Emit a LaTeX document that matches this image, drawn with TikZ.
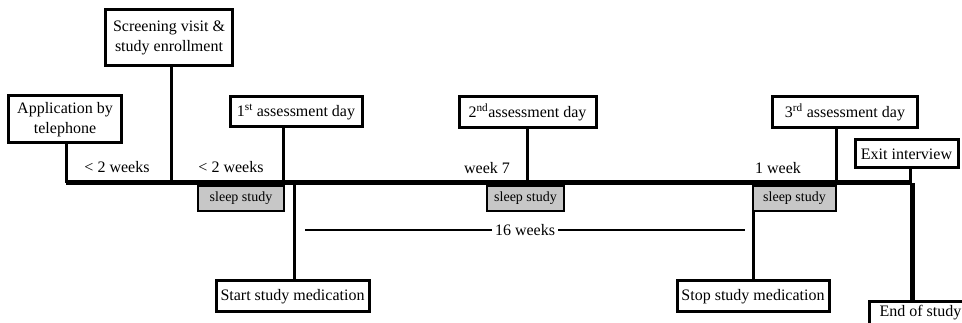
\documentclass[tikz,border=0pt]{standalone}
\usepackage{fontspec}
\setmainfont{Liberation Serif}
\begin{document}
\begin{tikzpicture}[x=1pt,y=-1pt,
  box/.style={draw=black, line width=3pt, fill=white, align=center, inner sep=2pt, font=\fontsize{16}{20}\selectfont},
  sleepbox/.style={draw=black, line width=1.6pt, fill=black!22, inner sep=1pt, minimum height=25pt, font=\fontsize{14}{15}\selectfont},
  lbl/.style={inner sep=1pt, font=\fontsize{16}{17}\selectfont},
  stem/.style={line width=3pt},
  mainline/.style={line width=5pt}]
\useasboundingbox (0,0) rectangle (962,323);
\clip (0,0) rectangle (962,323);
% timeline coordinates
\coordinate (t1) at (66,183);
\coordinate (t2) at (171,183);
\coordinate (t3) at (283,183);
\coordinate (t4) at (527,183);
\coordinate (t5) at (836,183);
\coordinate (t6) at (910,183);
\coordinate (tE) at (912,183);
\coordinate (tM) at (294,183);
% boxes above
\node[box, minimum width=113pt, minimum height=47pt] (app) at (65,119.5) {Application by\\telephone};
\node[box, minimum width=127pt, minimum height=56pt] (scr) at (169,38) {Screening visit \&\\study enrollment};
\node[box, minimum width=132pt, minimum height=30pt] (first) at (296,112) {1\textsuperscript{st} assessment day};
\node[box, minimum width=137pt, minimum height=31pt] (second) at (527.5,112.5) {2\textsuperscript{nd}assessment day};
\node[box, minimum width=145pt, minimum height=31pt] (third) at (845,112.5) {3\textsuperscript{rd} assessment day};
\node[box, minimum width=103pt, minimum height=28pt] (exit) at (906.5,154) {Exit interview};
% stems above
\draw[stem] (t1) -- (t1 |- app.south);
\draw[stem] (t2) -- (t2 |- scr.south);
\draw[stem] (t3) -- (t3 |- first.south);
\draw[stem] (t4) -- (t4 |- second.south);
\draw[stem] (t5) -- (t5 |- third.south);
\draw[stem] (t6) -- (t6 |- exit.south);
% boxes below
\node[box, minimum width=153pt, minimum height=31pt] (start) at (292.5,296.5) {Start study medication};
\node[box, minimum width=152pt, minimum height=31pt] (stop) at (753,296.5) {Stop study medication};
\node[box, minimum width=102pt, anchor=north west, inner ysep=4pt] (end) at (868,300) {End of study};
% sleep studies
\node[sleepbox, minimum width=86pt] (s1) at (241,198.5) {sleep study};
\node[sleepbox, minimum width=77pt] (s2) at (525.5,198.5) {sleep study};
\node[sleepbox, minimum width=83pt] (s3) at (794.5,198.5) {sleep study};
% stems below
\draw[stem] (tM) -- (tM |- start.north);
\draw[stem] (stop.north) -- (stop.north |- s3.south);
\draw[mainline] (tE) -- (tE |- end.north);
% main line
\draw[mainline] (t1) -- (tE);
% interval labels
\node[lbl] (w1) at (117,167) {< 2 weeks};
\node[lbl] (w2) at (231,167) {< 2 weeks};
\node[lbl] (w3) at (487,168) {week 7};
\node[lbl] (w4) at (778,168) {1 week};
% 16 weeks
\coordinate (a) at (305,230);
\coordinate (b) at (745,230);
\node[lbl, inner sep=3pt] (w16) at (525,230) {16 weeks};
\draw[line width=1.8pt] (a) -- (w16.west);
\draw[line width=1.8pt] (w16.east) -- (b);
\end{tikzpicture}
\end{document}
